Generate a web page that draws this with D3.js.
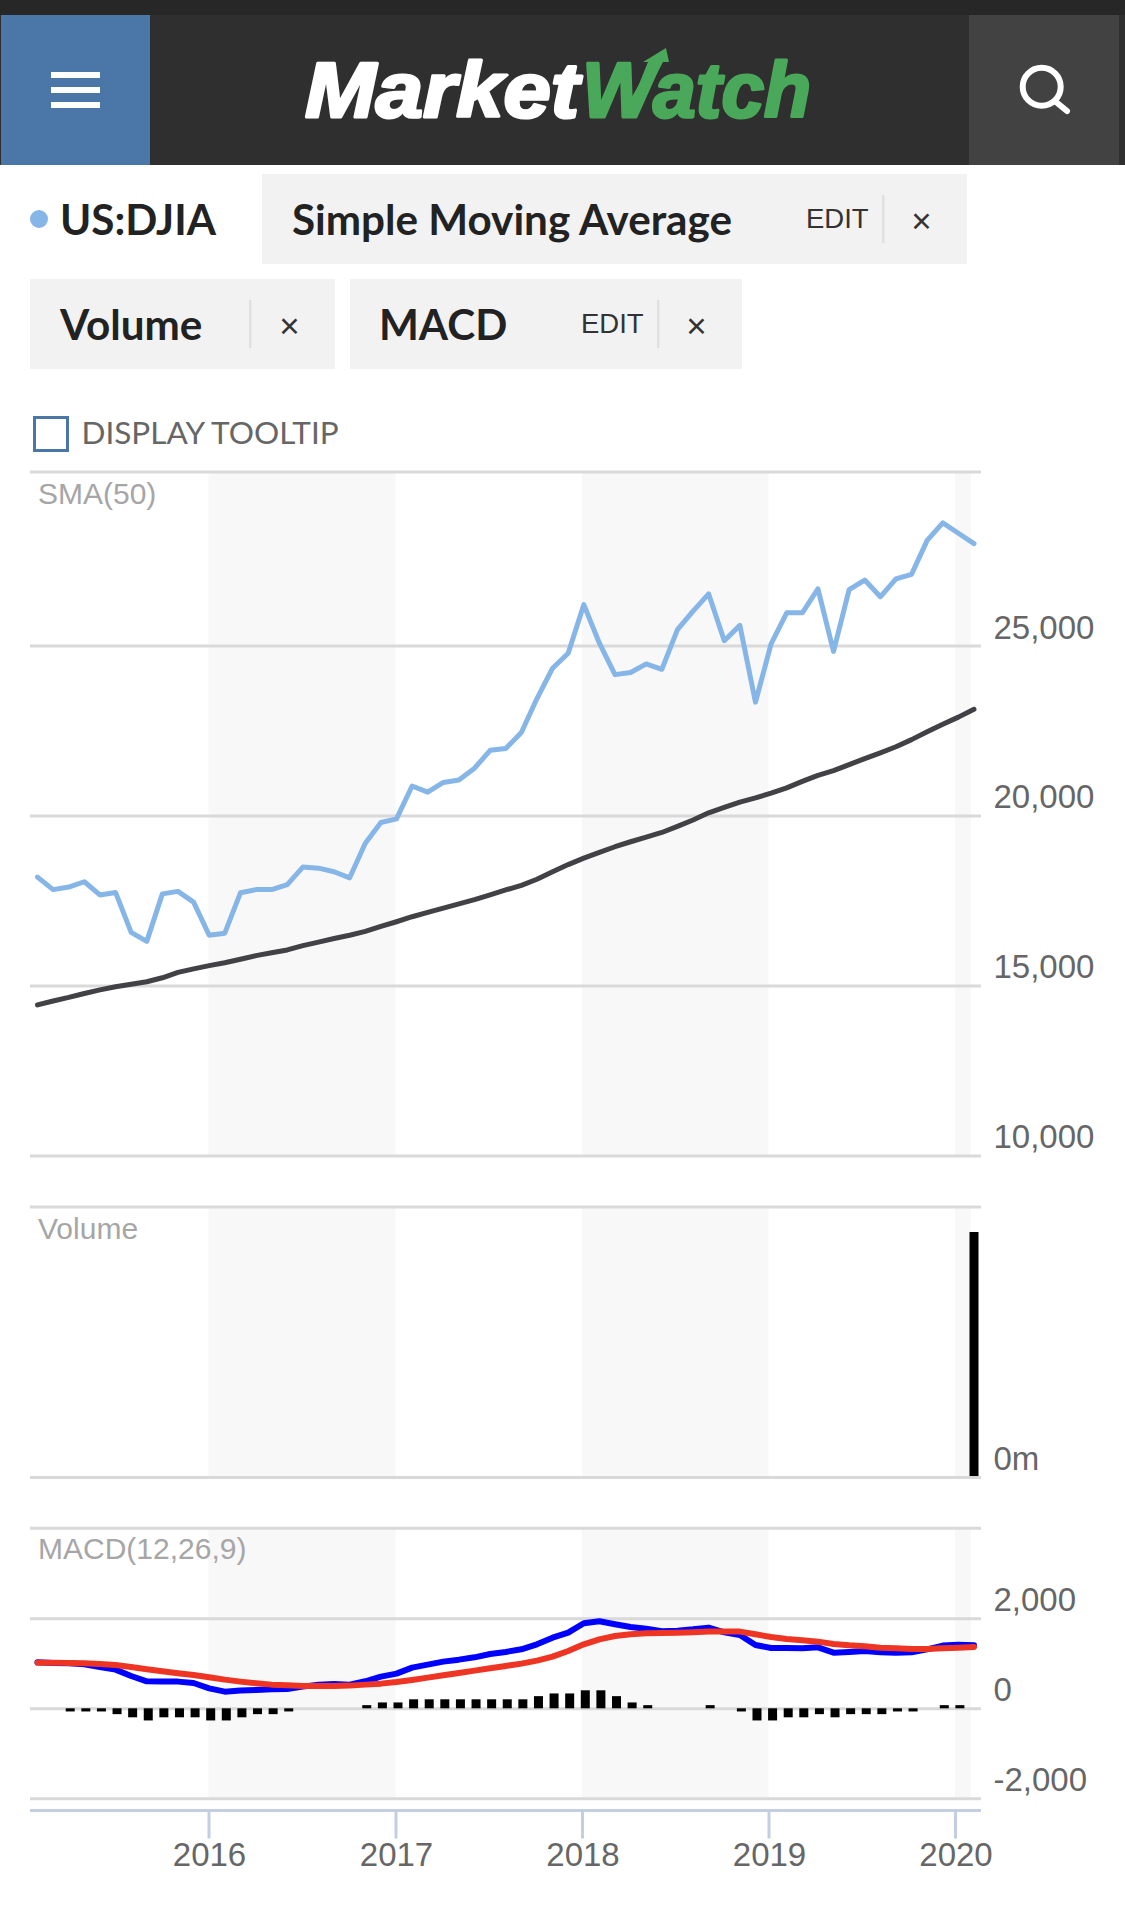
<!DOCTYPE html>
<html>
<head>
<meta charset="utf-8">
<title>US:DJIA</title>
<script src="https://cdn.jsdelivr.net/npm/d3@7"></script>
<style>
  html, body { margin: 0; padding: 0; background: #fff; }
  svg { display: block; }
  .tick text { font-family: "Liberation Sans", Arial, sans-serif; font-size: 33px; fill: #666; }
  .grid .domain { display: none; }
  .grid .tick line { stroke: #d9d9d9; stroke-width: 3; }
  .panel-title { font-family: "Liberation Sans", Arial, sans-serif; font-size: 30px; fill: #a6a6a6; }
  .tab { font-family: Lato, sans-serif; font-weight: 700; font-size: 42.2px; fill: #222; }
  .edit { font-family: "Liberation Sans", Arial, sans-serif; font-size: 27.5px; fill: #333; }
</style>
</head>
<body>
<svg id="chart" width="1125" height="1910"></svg>
<script>
// Monthly closes and indicators, February 2015 to February 2020
const months = [
  "2015-02","2015-03","2015-04","2015-05","2015-06","2015-07","2015-08","2015-09","2015-10","2015-11","2015-12",
  "2016-01","2016-02","2016-03","2016-04","2016-05","2016-06","2016-07","2016-08","2016-09","2016-10","2016-11","2016-12",
  "2017-01","2017-02","2017-03","2017-04","2017-05","2017-06","2017-07","2017-08","2017-09","2017-10","2017-11","2017-12",
  "2018-01","2018-02","2018-03","2018-04","2018-05","2018-06","2018-07","2018-08","2018-09","2018-10","2018-11","2018-12",
  "2019-01","2019-02","2019-03","2019-04","2019-05","2019-06","2019-07","2019-08","2019-09","2019-10","2019-11","2019-12",
  "2020-01","2020-02"];

const djiaClose = [
  18187,17819,17893,18050,17662,17735,16559,16296,17693,17767,17452,
  16475,16538,17725,17819,17819,17967,18481,18450,18345,18166,19185,19794,
  19899,20866,20687,20971,21044,21391,21916,21969,22441,23439,24332,24773,
  26202,25068,24143,24206,24458,24300,25466,26013,26517,25141,25592,23334,
  25046,25960,25960,26664,24826,26643,26926,26433,26958,27095,28092,28607,
  28302,27998];

const sma50 = [
  14427,14542,14647,14763,14868,14962,15036,15109,15225,15383,15488,
  15582,15666,15771,15876,15960,16044,16170,16275,16380,16475,16590,16738,
  16874,17021,17147,17273,17399,17525,17662,17809,17945,18124,18345,18555,
  18744,18912,19080,19227,19364,19500,19679,19868,20078,20235,20393,20519,
  20656,20813,21002,21181,21317,21496,21674,21843,22021,22231,22462,22683,
  22893,23124];

const macdLine = [
  1022,1007,1000,978,918,859,718,600,593,593,563,
  444,370,393,407,422,430,481,526,541,526,600,704,
  770,904,970,1037,1081,1133,1207,1252,1311,1422,1570,1681,
  1889,1933,1867,1807,1770,1711,1726,1755,1793,1689,1630,1407,
  1341,1341,1333,1355,1237,1252,1274,1244,1237,1244,1311,1393,
  1415,1400];

const signalLine = [
  1015,1015,1007,1000,985,963,918,867,822,778,741,
  689,637,593,556,526,511,496,496,496,504,526,548,
  585,630,681,733,785,837,889,941,993,1059,1148,1274,
  1422,1533,1607,1644,1667,1674,1681,1689,1704,1704,1704,1644,
  1585,1541,1511,1481,1430,1400,1378,1348,1333,1319,1319,1333,
  1348,1363];

const macdHistogram = [
  0,0,-70,-70,-70,-130,-200,-270,-200,-200,-200,
  -270,-270,-200,-130,-130,-70,0,0,0,0,70,130,
  130,200,200,200,200,200,200,200,200,270,330,330,
  400,400,270,130,70,0,0,0,70,0,-70,-270,
  -270,-200,-200,-130,-200,-130,-130,-130,-70,-70,0,70,
  70,0];

const volumeMonths = ["2020-02"];
const volumeMillions = [8167];

const priceTicks = [25000, 20000, 15000, 10000];
const macdTicks = [2000, 0, -2000];
const volumeTicks = [0];
const yearTicks = ["2016", "2017", "2018", "2019", "2020"];
const shadedYears = [["2016", "2017"], ["2018", "2019"], ["2020", "2020-02-01"]];

const svg = d3.select("#chart");
const parseYear = s => new Date(s.length === 4 ? s + "-01-01T00:00:00" : s + "T00:00:00");

const gridLeft = 30, gridRight = 981;

// Month points sit on an even step; the year ruler runs on calendar time.
const x = d3.scalePoint().domain(months).range([37.5, 974]);
const xYear = d3.scaleTime()
  .domain([parseYear("2016"), parseYear("2020")])
  .range([208.5, 955]);

const priceY = d3.scaleLinear().domain([10000, 25000]).range([1155.4, 645.5]);
const volumeY = d3.scaleLinear().domain([0, 9000]).range([1477, 1207]);
const macdY = d3.scaleLinear().domain([-2000, 2000]).range([1798.3, 1618.3]);

const hyphenFormat = d => d3.format(",")(d).replace("\u2212", "-");

// Page header
const header = svg.append("g");
header.append("rect").attr("width", 1125).attr("height", 15).attr("fill", "#272727");
header.append("rect").attr("y", 15).attr("width", 1125).attr("height", 150).attr("fill", "#2f2f2f");
header.append("rect").attr("x", 1).attr("y", 15).attr("width", 149).attr("height", 150).attr("fill", "#4a76a8");
header.append("rect").attr("x", 969).attr("y", 15).attr("width", 150).attr("height", 150).attr("fill", "#424242");
header.selectAll("rect.burger").data([72, 87, 102]).join("rect")
  .attr("class", "burger").attr("x", 51).attr("y", d => d).attr("width", 49).attr("height", 6).attr("fill", "#fff");

const logoStyle = t => t
  .attr("font-family", "'Liberation Sans', Arial, sans-serif")
  .attr("font-weight", 700).attr("font-style", "italic")
  .attr("font-size", 78).attr("y", 117).attr("lengthAdjust", "spacingAndGlyphs")
  .attr("stroke-width", 3).attr("stroke-linejoin", "round");
header.append("text").call(logoStyle).attr("x", 305).attr("textLength", 274)
  .attr("fill", "#fff").attr("stroke", "#fff").text("Market");
header.append("text").call(logoStyle).attr("x", 582).attr("textLength", 229)
  .attr("fill", "#4aa85a").attr("stroke", "#4aa85a").text("Watch");
header.append("path").attr("fill", "#4aa85a")
  .attr("d", "M666 48 L643 62 L652 62 L630 100 L642 102 L663 62 L669 62 Z");

header.append("circle").attr("cx", 1041.7).attr("cy", 86.7).attr("r", 19)
  .attr("fill", "none").attr("stroke", "#fff").attr("stroke-width", 6);
header.append("line").attr("x1", 1056).attr("y1", 102).attr("x2", 1067).attr("y2", 111)
  .attr("stroke", "#fff").attr("stroke-width", 6).attr("stroke-linecap", "round");

// Legend tabs
const tabs = [
  { x: 262, y: 174, w: 705, h: 90, label: "Simple Moving Average", tx: 292, base: 235, edit: 806, div: 883, close: 921 },
  { x: 30, y: 279, w: 305, h: 90, label: "Volume", tx: 60, base: 340, edit: null, div: 250, close: 289 },
  { x: 350, y: 279, w: 392, h: 90, label: "MACD", tx: 379, base: 340, edit: 581, div: 658, close: 696 }
];
const legend = svg.append("g");
legend.append("circle").attr("cx", 39).attr("cy", 219).attr("r", 9).attr("fill", "#86b5e8");
legend.append("text").attr("class", "tab").attr("x", 60).attr("y", 235).text("US:DJIA");
tabs.forEach(t => {
  const g = legend.append("g");
  g.append("rect").attr("x", t.x).attr("y", t.y).attr("width", t.w).attr("height", t.h).attr("fill", "#f2f2f2");
  g.append("text").attr("class", "tab").attr("x", t.tx).attr("y", t.base).text(t.label);
  if (t.edit !== null) {
    g.append("text").attr("class", "edit").attr("x", t.edit).attr("y", t.base - 7).text("EDIT");
  }
  g.append("rect").attr("x", t.div - 1).attr("y", t.y + 21).attr("width", 2.5).attr("height", 48).attr("fill", "#e0e0e0");
  g.append("text").attr("x", t.close + 0.5).attr("y", t.y + 48 + 11).attr("text-anchor", "middle")
    .attr("font-family", "'Liberation Sans', Arial, sans-serif").attr("font-size", 35).attr("fill", "#333").text("\u00d7");
});

legend.append("rect").attr("x", 34.5).attr("y", 417.5).attr("width", 33).attr("height", 33)
  .attr("fill", "#fff").attr("stroke", "#4a76a8").attr("stroke-width", 3);
legend.append("text").attr("x", 81.5).attr("y", 444).attr("font-family", "Lato, sans-serif")
  .attr("font-size", 31.5).attr("fill", "#666").text("DISPLAY TOOLTIP");

// Alternate-year shading behind all three panels
const panels = [
  { top: 472, bottom: 1155.4, y: priceY, ticks: priceTicks, format: hyphenFormat, title: "SMA(50)", titleY: 504 },
  { top: 1207, bottom: 1477, y: volumeY, ticks: volumeTicks, format: d => d + "m", title: "Volume", titleY: 1238.5 },
  { top: 1528.3, bottom: 1798.3, y: macdY, ticks: macdTicks, format: hyphenFormat, title: "MACD(12,26,9)", titleY: 1558.5 }
];

panels.forEach(p => {
  const g = svg.append("g");
  g.selectAll("rect").data(shadedYears).join("rect")
    .attr("x", d => xYear(parseYear(d[0])))
    .attr("width", d => xYear(parseYear(d[1])) - xYear(parseYear(d[0])))
    .attr("y", p.top).attr("height", p.bottom - p.top)
    .attr("fill", "#f8f8f8");
});

// Volume bars go under the baseline rule
svg.append("g").selectAll("rect").data(volumeMonths).join("rect")
  .attr("x", d => x(d) - 4.5).attr("width", 9)
  .attr("y", (d, i) => volumeY(volumeMillions[i]))
  .attr("height", (d, i) => volumeY(0) - volumeY(volumeMillions[i]))
  .attr("fill", "#000");

panels.forEach(p => {
  const axis = d3.axisRight(p.y)
    .tickValues(p.ticks)
    .tickFormat(p.format)
    .tickSize(-(gridRight - gridLeft))
    .tickPadding(12);
  const g = svg.append("g").attr("class", "grid").attr("transform", `translate(${gridRight},0)`).call(axis);
  g.selectAll(".tick line").attr("x2", -(gridRight - gridLeft));
  g.selectAll(".tick text").attr("x", 12.5).attr("dy", "-7.5px");
  svg.append("line").attr("x1", gridLeft).attr("x2", gridRight).attr("y1", p.top).attr("y2", p.top)
    .attr("stroke", "#d9d9d9").attr("stroke-width", 3);
  svg.append("text").attr("class", "panel-title").attr("x", 38).attr("y", p.titleY).text(p.title);
});

// Price panel lines
const drawLine = (values, yScale, color, width) => {
  svg.append("path").datum(values)
    .attr("fill", "none").attr("stroke", color).attr("stroke-width", width)
    .attr("stroke-linejoin", "round").attr("stroke-linecap", "round")
    .attr("d", d3.line().x((d, i) => x(months[i])).y(d => yScale(d)));
};
drawLine(djiaClose, priceY, "#86b5e8", 5);
drawLine(sma50, priceY, "#414146", 5);

// MACD histogram and its two lines
svg.append("g").selectAll("rect").data(macdHistogram).join("rect")
  .attr("x", (d, i) => x(months[i]) - 3)
  .attr("width", 9)
  .attr("y", d => Math.min(macdY(d), macdY(0)))
  .attr("height", d => Math.abs(macdY(d) - macdY(0)))
  .attr("fill", "#000");
drawLine(macdLine, macdY, "#0000ff", 6);
drawLine(signalLine, macdY, "#ee3524", 6);

// Year axis along the bottom
const yearAxis = d3.axisBottom(xYear)
  .tickValues(yearTicks.map(parseYear))
  .tickFormat(d3.timeFormat("%Y"))
  .tickSizeOuter(0)
  .tickSizeInner(28)
  .tickPadding(0);
const xg = svg.append("g").attr("transform", "translate(0,1810.5)").call(yearAxis);
xg.select(".domain").remove();
xg.selectAll(".tick line").attr("stroke", "#c3cfe0").attr("stroke-width", 3);
xg.selectAll(".tick text").attr("text-anchor", "middle").attr("dx", "0.5px").attr("y", 55.5).attr("dy", 0);
svg.append("line").attr("x1", gridLeft).attr("x2", gridRight).attr("y1", 1810.5).attr("y2", 1810.5)
  .attr("stroke", "#c3cfe0").attr("stroke-width", 3);
</script>
</body>
</html>
